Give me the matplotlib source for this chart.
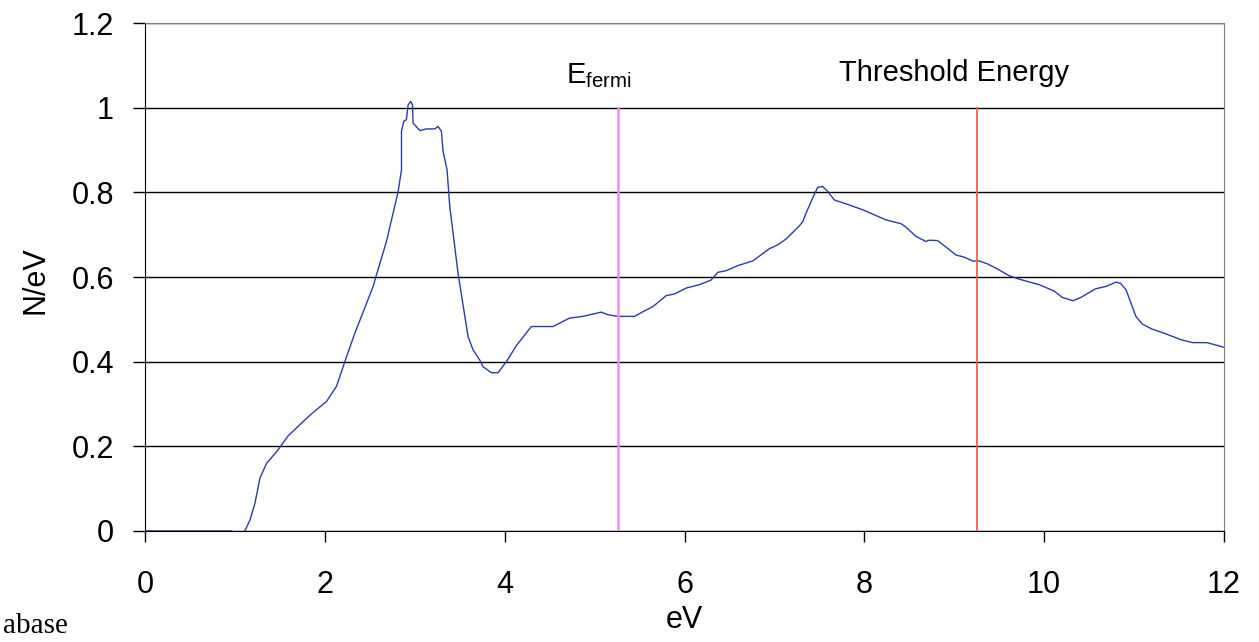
import matplotlib
matplotlib.use('Agg')
import matplotlib.pyplot as plt

plt.rcParams['font.family'] = ['Liberation Sans', 'DejaVu Sans']
plt.rcParams['mathtext.fontset'] = 'custom'
plt.rcParams['mathtext.rm'] = 'Liberation Sans'

# density of states curve
energy = [0.0, 0.5, 0.96, 1.0, 1.05, 1.09, 1.11, 1.167, 1.222, 1.278, 1.352, 1.463, 1.593,
          1.796, 1.87, 2.019, 2.13, 2.222, 2.333, 2.44, 2.537, 2.574, 2.685, 2.815, 2.852,
          2.852, 2.878, 2.907, 2.926, 2.956, 2.974, 2.981, 3.056, 3.13, 3.222, 3.259, 3.296,
          3.315, 3.359, 3.389, 3.481, 3.593, 3.648, 3.722, 3.759, 3.852, 3.926, 4.019, 4.13,
          4.296, 4.537, 4.722, 4.87, 5.074, 5.148, 5.259, 5.444, 5.537, 5.648, 5.796, 5.889,
          6.019, 6.167, 6.296, 6.37, 6.463, 6.593, 6.759, 6.944, 7.037, 7.13, 7.278, 7.315,
          7.352, 7.407, 7.481, 7.537, 7.593, 7.667, 7.796, 7.981, 8.241, 8.407, 8.463, 8.574,
          8.685, 8.722, 8.815, 8.907, 9.019, 9.111, 9.204, 9.278, 9.37, 9.463, 9.611, 9.722,
          9.944, 10.11, 10.2, 10.32, 10.41, 10.57, 10.69, 10.8, 10.85, 10.91, 11.02, 11.09,
          11.2, 11.35, 11.52, 11.65, 11.81, 12.0]
dos = [0.0, 0.0, 0.0, -0.004, -0.005, -0.012, 0.0, 0.026, 0.065, 0.125, 0.16, 0.187, 0.225,
       0.266, 0.28, 0.306, 0.342, 0.40, 0.467, 0.525, 0.578, 0.605, 0.684, 0.802, 0.853,
       0.944, 0.968, 0.972, 1.007, 1.015, 1.007, 0.964, 0.946, 0.95, 0.95, 0.956, 0.944,
       0.897, 0.853, 0.767, 0.609, 0.459, 0.428, 0.404, 0.388, 0.374, 0.374, 0.40, 0.438,
       0.483, 0.483, 0.503, 0.507, 0.517, 0.511, 0.507, 0.507, 0.518, 0.53, 0.556, 0.56,
       0.574, 0.582, 0.593, 0.611, 0.615, 0.627, 0.638, 0.667, 0.676, 0.69, 0.721, 0.731,
       0.751, 0.778, 0.812, 0.814, 0.802, 0.782, 0.773, 0.759, 0.735, 0.726, 0.718, 0.696,
       0.684, 0.687, 0.686, 0.671, 0.652, 0.647, 0.638, 0.638, 0.631, 0.621, 0.603, 0.595,
       0.582, 0.567, 0.552, 0.544, 0.552, 0.572, 0.578, 0.588, 0.585, 0.57, 0.507, 0.489,
       0.477, 0.466, 0.452, 0.445, 0.445, 0.434]

e_fermi = 5.26
e_threshold = 9.25

fig = plt.figure(figsize=(12.59, 6.42), dpi=100)
ax = fig.add_axes([0.1152, 0.173, 0.8570, 0.791])

ax.plot(energy, dos, color='#2b3ca8', lw=1.0)
ax.plot([e_fermi, e_fermi], [0, 1], color='#f48af4', lw=1.8)
ax.plot([e_threshold, e_threshold], [0, 1], color='#f0604a', lw=1.3)

ax.text(5.05, 1.075, r'E$_{\mathrm{fermi}}$', fontsize=21, ha='center', va='center')
ax.text(9.0, 1.083, 'Threshold Energy', fontsize=21, ha='center', va='center')

ax.set_xlim(0, 12)
ax.set_ylim(0, 1.2)
ax.set_xticks([0, 2, 4, 6, 8, 10, 12])
ax.set_yticks([0, 0.2, 0.4, 0.6, 0.8, 1.0, 1.2])
ax.set_yticklabels(['0', '0.2', '0.4', '0.6', '0.8', '1', '1.2'])
ax.yaxis.grid(True, color='black', lw=1.0)
ax.set_axisbelow(True)
ax.tick_params(axis='x', length=8, width=1, pad=20, labelsize=22)
ax.tick_params(axis='y', length=8.5, width=1, pad=14, labelsize=22)
for s in ['top', 'right']:
    ax.spines[s].set_color('#808080')
ax.spines['left'].set_color('black')
ax.spines['bottom'].set_color('black')

fig.text(35 / 1259, 1 - 280 / 642, 'N/eV', rotation=90, fontsize=22, ha='center', va='center')
fig.text(684 / 1259, 1 - 620 / 642, 'eV', fontsize=22, ha='center', va='center')
fig.text(3 / 1259, 3 / 642, 'abase', fontsize=21, family='Liberation Serif', ha='left', va='bottom')

fig.savefig('out.png', dpi=100)
